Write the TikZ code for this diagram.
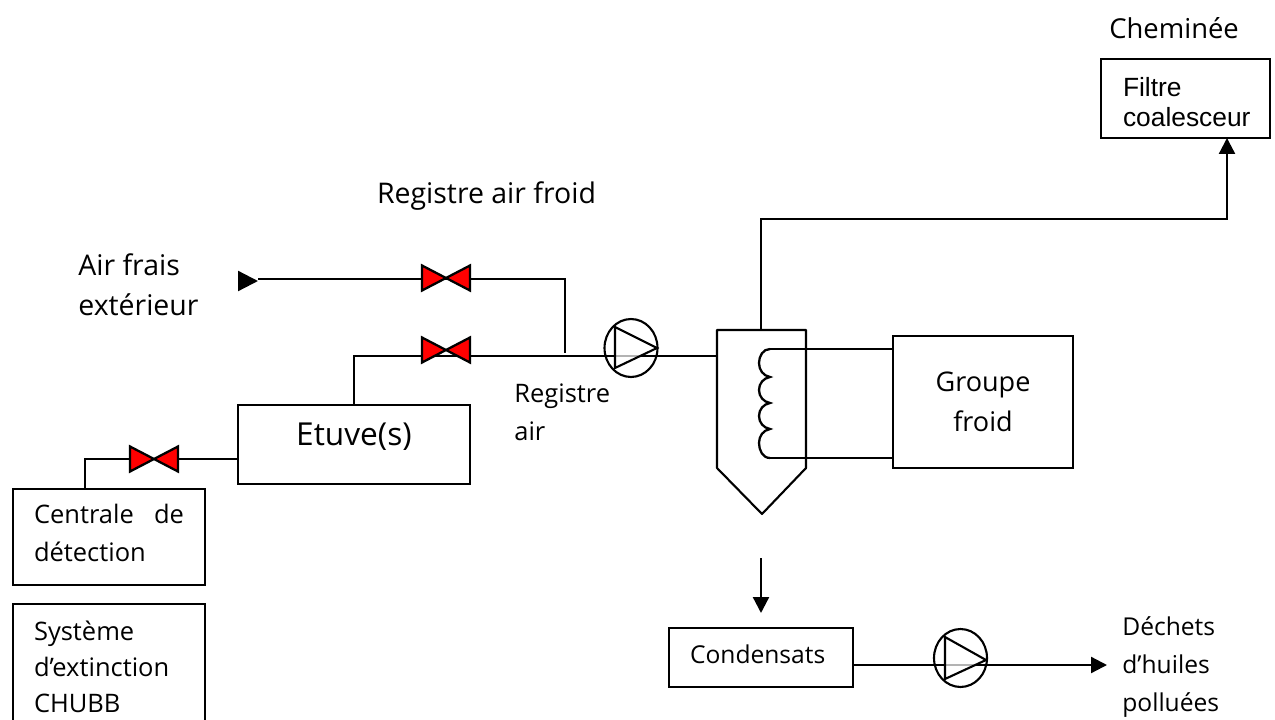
\documentclass[tikz,border=0pt]{standalone}
\usepackage{fontspec}
\setmainfont{Open Sans}
\newfontfamily\arialfont{Liberation Sans}
\usetikzlibrary{arrows.meta, positioning, calc, shapes.geometric}

\tikzset{
	pipe/.style={line width=1.3pt},
	tip/.style={-{Triangle[length=0.32cm, width=0.32cm]}},
	box/.style={draw, line width=1.3pt, rectangle, outer sep=0pt, inner sep=0pt},
	bigtext/.style={font=\fontsize{16.2}{23}\selectfont, align=left, inner sep=0pt},
	smalltext/.style={font=\fontsize{14.5}{20.6}\selectfont, align=left, inner sep=0pt},
	pump/.style={draw, ellipse, line width=1.2pt, minimum width=1.06cm, minimum height=1.16cm, inner sep=0pt},
}

\begin{document}
\begin{tikzpicture}[x=0.02cm, y=-0.02cm]
	\useasboundingbox (0,0) rectangle (1275,720);
	\clip (0,0) rectangle (1275,720);

	% boxes
	\node[box, minimum width=3.84cm, minimum height=1.92cm, smalltext, text width=3cm, text depth=0.92cm] (centrale) at (109,537) {Centrale\hfill de\\[1pt]détection};
	\node[box, minimum width=3.84cm, minimum height=2.52cm, smalltext, text width=3cm] (systeme) at (109,667) {Système\\d’extinction\\CHUBB};
	\node[box, minimum width=4.64cm, minimum height=1.58cm, bigtext, font=\fontsize{18}{23}\selectfont, text depth=0.4cm] (etuve) at (354,444.5) {Etuve(s)};
	\node[box, minimum width=3.6cm, minimum height=2.64cm, bigtext, font=\fontsize{15.4}{23}\selectfont, align=center] (groupe) at (983,402) {Groupe\\froid};
	\node[box, minimum width=3.68cm, minimum height=1.18cm, smalltext, font=\fontsize{14}{20}\selectfont, text width=2.84cm, text depth=0.12cm] (condensats) at (761,657.5) {Condensats};
	\node[box, minimum width=3.38cm, minimum height=1.58cm, text width=2.5cm, text height=0.54cm, align=left, font=\arialfont\fontsize{15}{17}\selectfont] (filtre) at (1185.5,98.5) {Filtre\\\mbox{coalesceur}};

	% labels
	\node[bigtext, anchor=west, font=\fontsize{15.6}{23}\selectfont] (cheminee) at (1109,28) {Cheminée};
	\node[bigtext] (registrefroid) at (486.5,196) {Registre air froid};
	\node[bigtext, anchor=west] (airfrais) at (78,285) {Air frais\\extérieur};
	\node[smalltext, anchor=west, font=\fontsize{14.5}{21.5}\selectfont] (registreair) at (514,412) {Registre\\air};
	\node[smalltext, anchor=west, font=\fontsize{14}{21.5}\selectfont] (dechets) at (1122,667) {Déchets\\d’huiles\\polluées};

	% points on the pipes
	\foreach \n/\x/\y in {valveA/446/278, valveB/446/350, valveC/154/459} {
		\coordinate (\n) at (\x,\y);
	}
	\coordinate (airin) at (238,281);
	\coordinate (airstart) at (258,279);
	\coordinate (drop) at (565,353);
	\coordinate (mix) at (565,356);
	\coordinate (tankTL) at (717,330);
	\coordinate (tankTR) at (806,330);
	\coordinate (tankBR) at (806,468);
	\coordinate (tankTip) at (762,514);
	\coordinate (tankBL) at (717,468);
	\coordinate (coilTop) at (770,349);
	\coordinate (coilBot) at (770,458);
	\coordinate (chimney) at (761,330);
	\coordinate (dropA) at (761,558);
	\coordinate (dropB) at (761,613);
	\coordinate (outlet) at (1107,665);

	% pipes
	\draw[pipe, -{Triangle[length=0.4cm, width=0.4cm]}] (airin) -- ++(20,0);
	\draw[pipe] (airstart) -| (drop);
	\draw[pipe] (etuve.north) |- (mix) -- (tankTL |- mix);
	\draw[pipe] (etuve.west |- valveC) -- (valveC) -| (centrale.north -| 85,0);
	\draw[pipe, tip] (chimney) |- (1227,219) -- (filtre.south -| 1227,0);
	\draw[pipe, tip] (dropA) -- (dropB);
	\draw[pipe, tip] (condensats.east |- outlet) -- (outlet);
	\draw[pipe] (coilTop) -- (groupe.west |- coilTop);
	\draw[pipe] (coilBot) -- (groupe.west |- coilBot);

	% tank and coil
	\draw[line width=1.2pt, line join=round] (tankTL) -- (tankTR) -- (tankBR) -- (tankTip) -- (tankBL) -- cycle;
	\draw[pipe] (coilTop) to[out=180, in=90] (759,363) to[out=-90, in=170] (770,377)
		to[out=190, in=90] (759,390) to[out=-90, in=170] (770,403)
		to[out=190, in=90] (759,416) to[out=-90, in=170] (770,429)
		to[out=190, in=90] (759,443) to[out=-90, in=180] (coilBot);

	% valves
	\foreach \n in {valveA, valveB, valveC} {
		\draw[pipe, fill=red, line join=miter] ($(\n)+(-24,-12.5)$) -- ($(\n)+(24,12.5)$) -- ($(\n)+(24,-12.5)$) -- ($(\n)+(-24,12.5)$) -- cycle;
	}

	% pumps
	\node[pump] (pumpA) at (631,348) {};
	\node[pump] (pumpB) at (960.5,658) {};
	\draw[line width=1.2pt, fill=white, fill opacity=0.7] (615,327) -- (615,368) -- (657,348) -- cycle;
	\draw[line width=1.2pt, fill=white, fill opacity=0.7] (945,637) -- (945,679) -- (986,660) -- cycle;
\end{tikzpicture}
\end{document}
